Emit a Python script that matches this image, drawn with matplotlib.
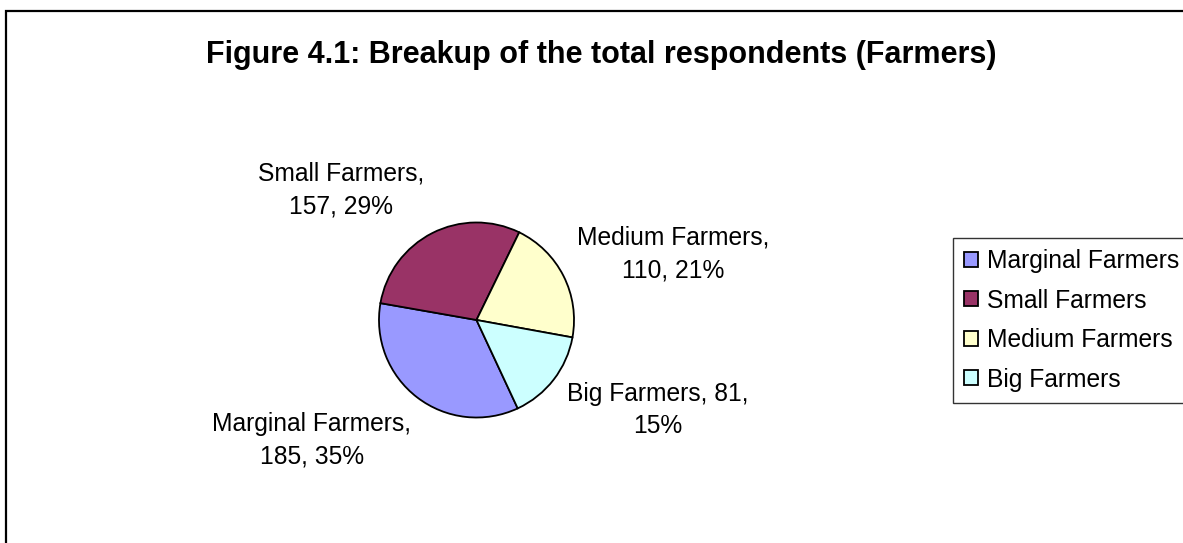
import matplotlib
matplotlib.use("Agg")
import matplotlib.pyplot as plt
from matplotlib.patches import Rectangle, Patch

plt.rcParams['font.family'] = ['Liberation Sans', 'DejaVu Sans']

categories = ["Marginal Farmers", "Small Farmers", "Medium Farmers", "Big Farmers"]
values = [185, 157, 110, 81]
colors = ["#9999FF", "#993366", "#FFFFCC", "#CCFFFF"]
title = "Figure 4.1: Breakup of the total respondents (Farmers)"

W, H = 1183, 543
fig = plt.figure(figsize=(W / 100, H / 100), dpi=100)

def px(x, y):
    return x / W, 1 - y / H

# outer chart border (left/top visible)
fig.patches.append(Rectangle((6 / W, -0.5), 2.0, 1 - 11 / H + 0.5,
                             transform=fig.transFigure, fill=False,
                             edgecolor='black', linewidth=1.6))

cx, cy, r = 476.5, 320, 98
ax = fig.add_axes([(cx - r) / W, (H - cy - r) / H, 2 * r / W, 2 * r / H])
ax.pie(values, colors=colors, startangle=-65, counterclock=False,
       wedgeprops=dict(edgecolor='black', linewidth=1.3), radius=1)
ax.set_xlim(-1.005, 1.005)
ax.set_ylim(-1.005, 1.005)
ax.set_aspect('equal')
ax.axis('off')

total = sum(values)
pcts = [round(v / total * 100) for v in values]
label_texts = [
    f"{categories[0]},\n{values[0]}, {pcts[0]}%",
    f"{categories[1]},\n{values[1]}, {pcts[1]}%",
    f"{categories[2]},\n{values[2]}, {pcts[2]}%",
    f"{categories[3]}, {values[3]},\n{pcts[3]}%",
]
label_pos = [(312, 440), (341, 190), (673, 254), (658, 410)]
for t, (x, y) in zip(label_texts, label_pos):
    fig.text(*px(x, y), t, ha='center', va='center', fontsize=17.7,
             linespacing=1.45)

fig.text(*px(601, 55), title, ha='center', va='center', fontsize=22,
         fontweight='bold')

handles = [Patch(facecolor=c, edgecolor='black', linewidth=1.3) for c in colors]
leg = fig.legend(handles, categories, loc='upper left',
                 bbox_to_anchor=px(953, 238), bbox_transform=fig.transFigure,
                 fontsize=17.7, frameon=True, fancybox=False,
                 handlelength=0.57, handleheight=0.57, handletextpad=0.37,
                 labelspacing=0.63, borderpad=0.45, borderaxespad=0)
leg.get_frame().set_edgecolor('black')
leg.get_frame().set_linewidth(1.0)

fig.savefig("out.png", dpi=100)
